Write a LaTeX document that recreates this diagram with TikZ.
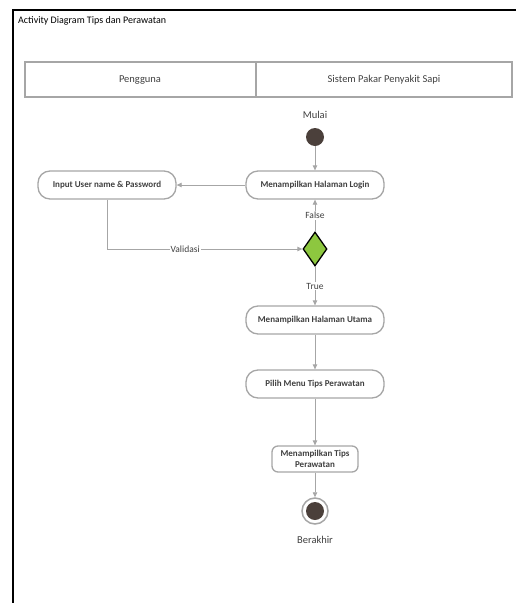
\documentclass[tikz,border=0pt]{standalone}
\usepackage{fontspec}
\setmainfont{Carlito}
\usetikzlibrary{arrows.meta,shapes.geometric}
\definecolor{linegray}{HTML}{A6A6A6}
\definecolor{textgray}{HTML}{404040}
\definecolor{dotfill}{HTML}{4B403B}
\definecolor{decgreen}{HTML}{8DC73F}
\tikzset{
  lane/.style={draw=linegray, line width=1.3pt},
  lanetext/.style={text=textgray, font=\fontsize{10.5}{12}\selectfont},
  act/.style={draw=linegray, line width=1.3pt, rounded corners=12pt, fill=white,
    minimum width=138pt, minimum height=28pt, inner sep=2pt, text=textgray,
    font=\bfseries\fontsize{9}{10.5}\selectfont},
  flow/.style={draw=linegray, line width=0.8pt, -{Triangle[length=5pt,width=4.5pt]}},
  flowlabel/.style={fill=white, inner sep=1pt, text=textgray, font=\fontsize{9.5}{10}\selectfont},
  caption/.style={text=textgray, font=\fontsize{10.5}{12}\selectfont}
}
\begin{document}
\begin{tikzpicture}[x=1pt,y=-1pt]
\useasboundingbox (0,0) rectangle (516,603);
% outer frame
\draw[line width=1.2pt] (13,603) -- (13,10) -- (516,10);
\node[anchor=west, font=\fontsize{10}{12}\selectfont, inner sep=0] (title) at (18,21) {Activity Diagram Tips dan Perawatan};
% swimlane header
\draw[lane] (25,62) rectangle (512,97);
\draw[lane] (256,62) -- (256,97);
\node[lanetext] (laneA) at (140,80) {Pengguna};
\node[lanetext] (laneB) at (384,80) {Sistem Pakar Penyakit Sapi};
% start
\node[caption] (mulai) at (315,115) {Mulai};
\node[circle, fill=dotfill, minimum size=18pt, inner sep=0] (start) at (315,137) {};
% activities
\node[act] (login) at (315,185) {Menampilkan Halaman Login};
\node[act] (input) at (107,185) {Input User name \& Password};
\node[diamond, draw=black, line width=1.3pt, fill=decgreen, minimum width=24pt, minimum height=34pt, inner sep=0] (dec) at (315,249) {};
\node[act] (utama) at (315,320) {Menampilkan Halaman Utama};
\node[act] (pilih) at (315,384) {Pilih Menu Tips Perawatan};
\node[act, minimum width=86pt, minimum height=26pt, rounded corners=6pt, align=center, inner sep=1pt] (tips) at (315,459) {Menampilkan Tips\\Perawatan};
% end
\node[circle, draw=linegray, line width=1.5pt, fill=white, minimum size=26pt, inner sep=0] (end) at (315,511) {};
\node[circle, fill=dotfill, minimum size=18pt, inner sep=0] (endin) at (end) {};
\node[caption] (berakhir) at (315,540) {Berakhir};
% connectors
\draw[flow] (start) -- (login);
\draw[flow] (login) -- (input);
\draw[flow] (input.south) |- node[flowlabel, pos=0.7] {Validasi} (dec.west);
\draw[flow] (dec.north) -- node[flowlabel] {False} (login.south);
\draw[flow] (dec.south) -- node[flowlabel] {True} (utama.north);
\draw[flow] (utama) -- (pilih);
\draw[flow] (pilih) -- (tips);
\draw[flow] (tips) -- (end);
\end{tikzpicture}
\end{document}
